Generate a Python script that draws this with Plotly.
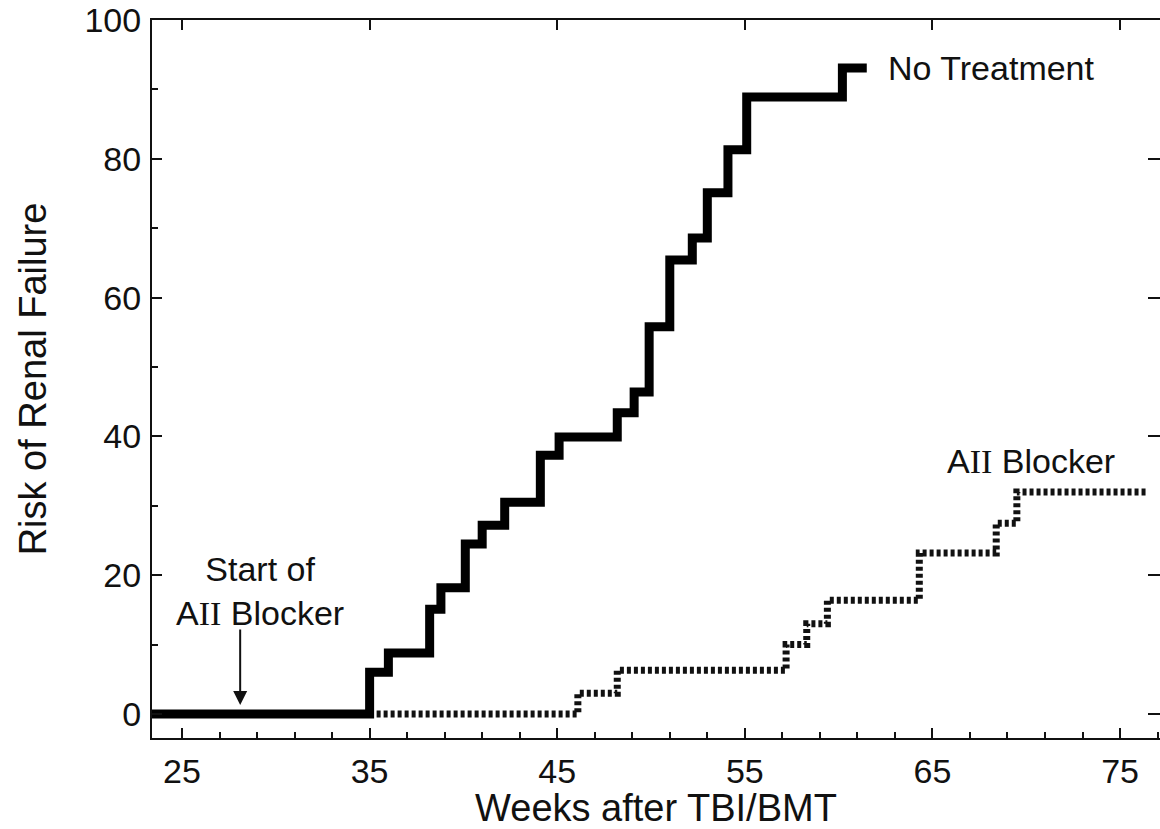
import plotly.graph_objects as go

# ---- data ----
weeks_no_treatment = [23.3, 35.0, 36.0, 38.2, 38.8, 40.1, 41.0, 42.2, 44.1, 45.1,
                      48.2, 49.1, 49.9, 51.0, 52.2, 53.0, 54.1, 55.1, 60.2, 61.5]
risk_no_treatment = [0, 6.0, 8.8, 15.1, 18.2, 24.5, 27.2, 30.5, 37.3, 39.9,
                     43.4, 46.4, 55.8, 65.4, 68.6, 75.1, 81.3, 88.9, 93.1, 93.1]

weeks_aii = [35.0, 46.1, 48.2, 57.2, 58.3, 59.4, 64.3, 68.4, 69.5, 76.4]
risk_aii = [0, 3.0, 6.3, 10.0, 13.0, 16.4, 23.2, 27.5, 32.0, 32.0]

x_ticks = [25, 35, 45, 55, 65, 75]
y_ticks = [0, 20, 40, 60, 80, 100]

x_range = [23.4, 77.13]
y_range = [-3.46, 100]

# arrow marking the start of the AII blocker
arrow_week = 28.1
arrow_tip, arrow_tail = 1.3, 12.4

FONT = "Liberation Sans, Arial, Helvetica, sans-serif"
INK = "#111111"

fig = go.Figure()

fig.add_trace(go.Scatter(
    x=weeks_aii, y=risk_aii, mode="lines", line_shape="hv",
    line=dict(color=INK, width=7, dash="4px,3px"),
    name="AII Blocker", showlegend=False, hoverinfo="skip",
))
fig.add_trace(go.Scatter(
    x=weeks_no_treatment, y=risk_no_treatment, mode="lines", line_shape="hv",
    line=dict(color="black", width=9),
    name="No Treatment", showlegend=False, hoverinfo="skip",
))
# empty traces so the mirrored top/right axes are drawn
fig.add_trace(go.Scatter(x=[], y=[], xaxis="x2", yaxis="y", showlegend=False, hoverinfo="skip"))
fig.add_trace(go.Scatter(x=[], y=[], xaxis="x", yaxis="y2", showlegend=False, hoverinfo="skip"))

serif_II = "A<span style=\"font-family:'Liberation Serif', 'Times New Roman', serif\">II</span> Blocker"

annotations = [
    dict(x=62.53, y=93.1, xref="x", yref="y", text="No Treatment", showarrow=False,
         xanchor="left", yanchor="middle", font=dict(family=FONT, size=34, color=INK)),
    dict(x=65.67, y=36.45, xref="x", yref="y", text=serif_II, showarrow=False,
         xanchor="left", yanchor="middle", font=dict(family=FONT, size=34, color=INK)),
    dict(x=29.16, y=17.7, xref="x", yref="y", text="Start of<br>" + serif_II, showarrow=False,
         xanchor="center", yanchor="middle", align="center",
         font=dict(family=FONT, size=34, color=INK)),
    dict(x=arrow_week, y=arrow_tip, xref="x", yref="y", text="", showarrow=True,
         axref="x", ayref="y", ax=arrow_week, ay=arrow_tail,
         arrowhead=2, arrowsize=1.4, arrowwidth=2, arrowcolor=INK, standoff=0),
]

axis_common = dict(showgrid=False, zeroline=False, showline=True, linecolor=INK,
                   linewidth=2, ticks="inside", tickcolor=INK, tickwidth=2)

fig.update_layout(
    width=1160, height=829,
    margin=dict(l=152, r=0, t=20, b=91),
    paper_bgcolor="white", plot_bgcolor="white",
    font=dict(family=FONT, color=INK),
    xaxis=dict(range=x_range, tickvals=x_ticks, ticklen=10,
               tickfont=dict(size=34, color=INK), ticklabelstandoff=2,
               minor=dict(dtick=2, tick0=25, ticks="inside", ticklen=6,
                          tickcolor=INK, tickwidth=2, showgrid=False),
               title=dict(text="Weeks after TBI/BMT", font=dict(size=38, color=INK), standoff=9),
               **axis_common),
    yaxis=dict(range=y_range, tickvals=y_ticks, ticklen=10,
               tickfont=dict(size=34, color=INK), ticklabelstandoff=2,
               minor=dict(dtick=10, tick0=0, ticks="inside", ticklen=6,
                          tickcolor=INK, tickwidth=2, showgrid=False),
               title=dict(text="Risk of Renal Failure", font=dict(size=38, color=INK), standoff=26),
               **axis_common),
    xaxis2=dict(range=x_range, overlaying="x", side="top", anchor="y", tickvals=x_ticks,
                ticklen=10, showticklabels=False, **axis_common),
    yaxis2=dict(range=y_range, overlaying="y", side="right", anchor="x", tickvals=y_ticks,
                ticklen=12, showticklabels=False,
                **{**axis_common, "showline": False}),
    annotations=annotations,
)

fig.write_html("out.html")
